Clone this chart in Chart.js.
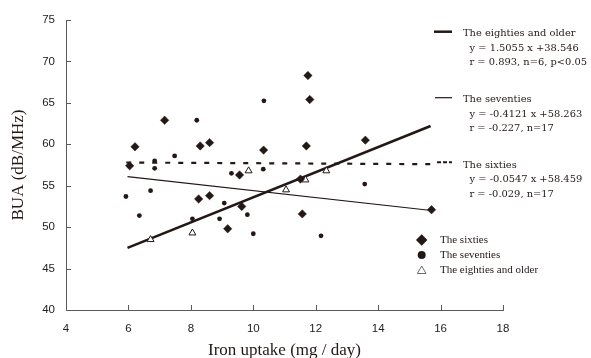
<!DOCTYPE html>
<html>
<head>
<meta charset="utf-8">
<script src="https://cdn.jsdelivr.net/npm/chart.js@4/dist/chart.umd.min.js"></script>
<style>
  html, body { margin: 0; padding: 0; background: #ffffff; }
  #wrap { position: relative; width: 591px; height: 358px; }
</style>
</head>
<body>
<div id="wrap"><canvas id="c" width="591" height="358"></canvas></div>
<script>
// ---- Data ----
const xTicks = [4, 6, 8, 10, 12, 14, 16, 18];
const yTicks = [40, 45, 50, 55, 60, 65, 70, 75];

const sixtiesX = [6.04, 6.21, 7.16, 8.25, 8.30, 8.60, 8.60, 9.18, 9.56, 9.63, 10.33, 11.51, 11.57, 11.70, 11.75, 11.81, 13.59, 15.71];
const sixtiesY = [57.4, 59.7, 62.9, 53.4, 59.8, 60.2, 53.8, 49.8, 56.3, 52.5, 59.3, 55.8, 51.6, 59.8, 68.3, 65.4, 60.5, 52.1];

const seventiesX = [5.92, 6.35, 6.71, 6.84, 6.84, 7.48, 8.05, 8.19, 8.92, 9.07, 9.30, 9.81, 10.00, 10.32, 10.34, 12.17, 13.57];
const seventiesY = [53.7, 51.4, 54.4, 58.0, 57.1, 58.6, 51.0, 62.9, 51.0, 52.9, 56.5, 51.5, 49.2, 57.0, 65.25, 48.95, 55.2];

const eightiesX = [6.71, 8.05, 9.85, 11.05, 11.67, 12.34];
const eightiesY = [48.5, 49.3, 56.8, 54.5, 55.7, 56.8];

// regression lines (end points)
const fitEightiesX = [5.97, 15.68];
const fitEightiesY = [47.5, 62.2];
const fitSeventiesX = [5.97, 15.71];
const fitSeventiesY = [56.1, 52.0];
const fitSixtiesX = [5.93, 15.68];
const fitSixtiesY = [57.8, 57.6];

const seriesNames = ['The sixties', 'The seventies', 'The eighties and older'];
const annotEighties = ['The eighties and older', 'y = 1.5055 x +38.546', 'r = 0.893, n=6, p<0.05'];
const annotSeventies = ['The seventies', 'y = -0.4121 x +58.263', 'r = -0.227, n=17'];
const annotSixties = ['The sixties', 'y = -0.0547 x +58.459', 'r = -0.029, n=17'];
const xTitle = 'Iron uptake (mg / day)';
const yTitle = 'BUA (dB/MHz)';

// ---- styling ----
const INK = '#231815';
const AXIS = '#5a5a5a';
const pts = (xs, ys) => xs.map((x, i) => ({ x: x, y: ys[i] }));

const overlay = {
  id: 'overlay',
  afterDraw(chart) {
    const ctx = chart.ctx;
    const xs = chart.scales.x, ys = chart.scales.y;
    ctx.save();
    // inward tick marks
    ctx.strokeStyle = AXIS;
    ctx.lineWidth = 1;
    xs.ticks.forEach(t => {
      const px = Math.round(xs.getPixelForValue(t.value)) + 0.5;
      ctx.beginPath(); ctx.moveTo(px, xs.top); ctx.lineTo(px, xs.top - 5); ctx.stroke();
    });
    ys.ticks.forEach(t => {
      const py = Math.round(ys.getPixelForValue(t.value)) + 0.5;
      ctx.beginPath(); ctx.moveTo(ys.right, py); ctx.lineTo(ys.right + 5, py); ctx.stroke();
    });

    // annotation line samples
    ctx.strokeStyle = INK;
    ctx.lineWidth = 2.5;
    ctx.beginPath(); ctx.moveTo(434, 31.7); ctx.lineTo(452, 31.7); ctx.stroke();
    ctx.lineWidth = 1.2;
    ctx.beginPath(); ctx.moveTo(435, 97.7); ctx.lineTo(452, 97.7); ctx.stroke();
    ctx.lineWidth = 2;
    ctx.setLineDash([4, 2]);
    ctx.beginPath(); ctx.moveTo(437, 162.3); ctx.lineTo(452, 162.3); ctx.stroke();
    ctx.setLineDash([]);

    // annotation texts
    ctx.fillStyle = INK;
    ctx.textBaseline = 'middle';
    ctx.textAlign = 'left';
    ctx.font = '9.9px "DejaVu Serif"';
    const blocks = [[annotEighties, 33.5], [annotSeventies, 99.5], [annotSixties, 165.2]];
    blocks.forEach(([lines, y0]) => {
      ctx.fillText(lines[0], 463, y0);
      ctx.fillText(lines[1], 469.5, y0 + 14.7);
      ctx.fillText(lines[2], 469.5, y0 + 29.2);
    });

    // legend
    const H = Chart.helpers;
    const ly = [240, 255, 270.5];
    ctx.fillStyle = INK; ctx.strokeStyle = INK;
    H.drawPoint(ctx, { pointStyle: 'rectRot', radius: 4.3, borderWidth: 0.5 }, 421.7, ly[0]);
    ctx.beginPath(); ctx.arc(421.7, ly[1], 4.0, 0, Math.PI * 2); ctx.fill();
    ctx.fillStyle = '#ffffff'; ctx.strokeStyle = '#444'; ctx.lineWidth = 0.8;
    H.drawPoint(ctx, { pointStyle: 'triangle', radius: 5, borderWidth: 0.8 }, 421.7, ly[2] + 0.5);
    ctx.fillStyle = INK;
    ctx.font = '11px "Liberation Serif"';
    ctx.textBaseline = 'middle';
    seriesNames.forEach((n, i) => ctx.fillText(n, 440, ly[i]));
    ctx.restore();
  }
};

new Chart(document.getElementById('c'), {
  type: 'scatter',
  data: {
    datasets: [
      {
        type: 'line', label: 'fit eighties', data: pts(fitEightiesX, fitEightiesY),
        borderColor: INK, borderWidth: 2.6, pointRadius: 0, fill: false, order: 1
      },
      {
        type: 'line', label: 'fit seventies', data: pts(fitSeventiesX, fitSeventiesY),
        borderColor: INK, borderWidth: 1.1, pointRadius: 0, fill: false, order: 1
      },
      {
        type: 'line', label: 'fit sixties', data: pts(fitSixtiesX, fitSixtiesY),
        borderColor: INK, borderWidth: 2.2, borderDash: [5, 8], pointRadius: 0, fill: false, order: 1
      },
      {
        label: seriesNames[0], data: pts(sixtiesX, sixtiesY),
        pointStyle: 'rectRot', pointRadius: 4.2, backgroundColor: INK, borderColor: INK, borderWidth: 0.5, order: 0
      },
      {
        label: seriesNames[1], data: pts(seventiesX, seventiesY),
        pointStyle: 'circle', pointRadius: 2.4, backgroundColor: INK, borderColor: INK, borderWidth: 0, order: 0
      },
      {
        label: seriesNames[2], data: pts(eightiesX, eightiesY),
        pointStyle: 'triangle', pointRadius: 4, backgroundColor: '#ffffff', borderColor: INK, borderWidth: 1, order: 0
      }
    ]
  },
  options: {
    responsive: false,
    devicePixelRatio: 1,
    animation: false,
    events: [],
    layout: { padding: { top: 20, right: 88, bottom: 0, left: 0 } },
    plugins: { legend: { display: false }, tooltip: { enabled: false } },
    scales: {
      x: {
        type: 'linear', min: 4, max: 18,
        afterBuildTicks: s => { s.ticks = xTicks.map(v => ({ value: v })); },
        afterFit: s => { s.height = 48; },
        grid: { display: false },
        border: { display: true, color: AXIS, width: 1 },
        ticks: { color: '#222', font: { family: '"Liberation Sans", Arial', size: 11.5 }, padding: 4, maxRotation: 0 },
        title: { display: true, text: xTitle, color: INK, font: { family: '"Liberation Serif"', size: 17 }, padding: { top: 0, bottom: -3 } }
      },
      y: {
        type: 'linear', min: 40, max: 75,
        afterBuildTicks: s => { s.ticks = yTicks.map(v => ({ value: v })); },
        afterFit: s => { s.width = 66; },
        grid: { display: false },
        border: { display: true, color: AXIS, width: 1 },
        ticks: { color: '#222', font: { family: '"Liberation Sans", Arial', size: 11.5 }, padding: 3 },
        title: { display: true, text: yTitle, color: INK, font: { family: '"Liberation Serif"', size: 17 }, padding: { top: 8.5, bottom: 0 } }
      }
    }
  },
  plugins: [overlay]
});
</script>
</body>
</html>
